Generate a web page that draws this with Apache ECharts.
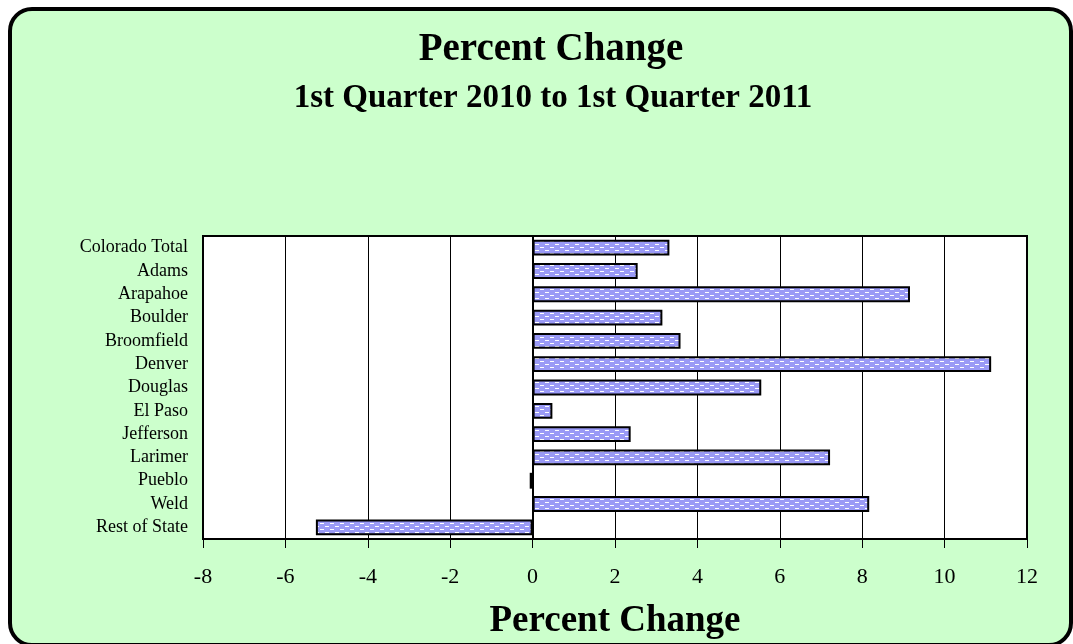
<!DOCTYPE html>
<html>
<head>
<meta charset="utf-8">
<script src="https://cdn.jsdelivr.net/npm/echarts@6/dist/echarts.min.js"></script>
<style>
  html, body { margin: 0; padding: 0; background: #fff; }
  #main { width: 1073px; height: 644px; }
</style>
</head>
<body>
<div id="main"></div>
<script>
var counties = ['Colorado Total', 'Adams', 'Arapahoe', 'Boulder', 'Broomfield', 'Denver', 'Douglas',
  'El Paso', 'Jefferson', 'Larimer', 'Pueblo', 'Weld', 'Rest of State'];
var pctChange = [3.32, 2.55, 9.16, 3.15, 3.59, 11.13, 5.55, 0.48, 2.38, 7.22, -0.07, 8.17, -5.26];
var xTicks = [-8, -6, -4, -2, 0, 2, 4, 6, 8, 10, 12];

// blue fill with little white dashes
var tile = document.createElement('canvas');
tile.width = 10; tile.height = 6;
var ctx = tile.getContext('2d');
ctx.fillStyle = '#9a9af6';
ctx.fillRect(0, 0, 10, 6);
ctx.fillStyle = '#ffffff';
ctx.fillRect(0, 1, 4, 1);
ctx.fillRect(5, 4, 4, 1);

var chart = echarts.init(document.getElementById('main'));
var option = {
  backgroundColor: '#ffffff',
  animation: false,
  graphic: [{
    type: 'rect',
    z: -10,
    shape: { x: 10, y: 9, width: 1061, height: 636, r: 22 },
    style: { fill: '#ccffcc', stroke: '#000', lineWidth: 4 }
  }],
  title: [{
    text: 'Percent Change',
    left: 546, top: 25, textAlign: 'center',
    textStyle: { fontFamily: 'Liberation Serif', fontSize: 39, fontWeight: 'bold', color: '#000' }
  }, {
    text: '1st Quarter 2010 to 1st Quarter 2011',
    left: 548, top: 77, textAlign: 'center',
    textStyle: { fontFamily: 'Liberation Serif', fontSize: 33, fontWeight: 'bold', color: '#000' }
  }],
  grid: { left: 203, right: 46, top: 236, bottom: 105, show: true, backgroundColor: '#fff',
    borderColor: '#000', borderWidth: 2 },
  xAxis: {
    type: 'value', min: -8, max: 12, interval: 2,
    name: 'Percent Change', nameLocation: 'middle', nameGap: 64,
    nameTextStyle: { fontFamily: 'Liberation Serif', fontSize: 37, fontWeight: 'bold', color: '#000' },
    axisLine: { show: true, onZero: false, lineStyle: { color: '#000', width: 2 } },
    axisTick: { show: true, length: 9, lineStyle: { color: '#000' } },
    axisLabel: { fontFamily: 'Liberation Serif', fontSize: 22, color: '#000', margin: 27,
      formatter: function (v) { return xTicks.indexOf(v) >= 0 ? String(v) : ''; } },
    splitLine: { show: true, lineStyle: { color: '#000', width: 1 } }
  },
  yAxis: {
    type: 'category', data: counties, inverse: true,
    axisLine: { show: true, lineStyle: { color: '#000', width: 2 } },
    axisTick: { show: false },
    axisLabel: { fontFamily: 'Liberation Serif', fontSize: 18, color: '#000', margin: 15,
      interval: 0, hideOverlap: false }
  },
  series: [{
    type: 'bar',
    data: pctChange,
    barCategoryGap: '32%',
    itemStyle: {
      color: { image: tile, repeat: 'repeat' },
      borderColor: '#000', borderWidth: 2
    }
  }]
};
chart.setOption(option);
</script>
</body>
</html>
